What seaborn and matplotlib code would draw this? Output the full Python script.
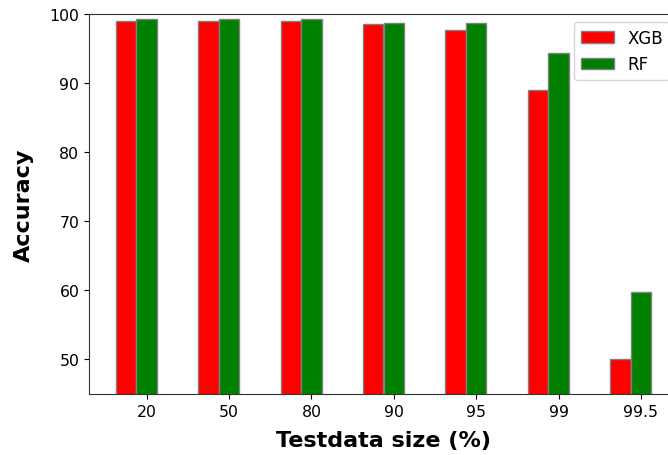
import numpy as np
import pandas as pd
import matplotlib
matplotlib.use("Agg")
import matplotlib.pyplot as plt
import seaborn as sns

categories = ["20", "50", "80", "90", "95", "99", "99.5"]
xgb = [99.0, 99.0, 99.0, 98.5, 97.7, 89.0, 50.0]
rf = [99.3, 99.3, 99.3, 98.7, 98.7, 94.3, 59.8]
series = ["XGB", "RF"]
colors = ["red", "green"]

df = pd.DataFrame({
    "size": categories * 2,
    "acc": xgb + rf,
    "model": [series[0]] * len(categories) + [series[1]] * len(categories),
})

plt.rcParams["font.family"] = ["DejaVu Sans"]
fig = plt.figure(figsize=(6.68, 4.56), dpi=100)
ax = fig.add_axes([89 / 668, 1 - 395 / 456, (678 - 89) / 668, (395 - 15) / 456])

sns.barplot(data=df, x="size", y="acc", hue="model", order=categories,
            hue_order=series, palette=colors, saturation=1, width=0.5, gap=0,
            edgecolor="grey", linewidth=1, errorbar=None, ax=ax)

ax.set_xlim(-0.575, 6.575)
ax.set_ylim(45, 100)
ax.set_yticks([50, 60, 70, 80, 90, 100])
ax.set_xticks(np.arange(len(categories)) + 0.125, categories)
ax.tick_params(labelsize=11.3)
for s in ax.spines.values():
    s.set_color("#333333")
ax.set_xlabel("Testdata size (%)", fontsize=16, fontweight="bold", labelpad=8)
ax.set_ylabel("Accuracy", fontsize=16, fontweight="bold", labelpad=11)
ax.legend(loc="upper right", fontsize=12, title=None)

fig.savefig("out.png", dpi=100)
